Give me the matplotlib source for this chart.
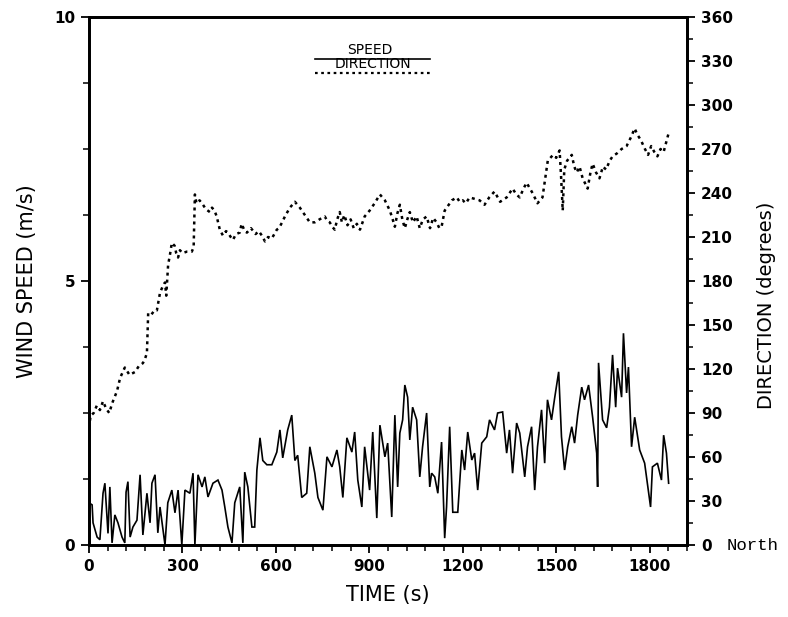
import matplotlib
matplotlib.use("Agg")
import matplotlib.pyplot as plt
from matplotlib.ticker import MultipleLocator
from matplotlib.lines import Line2D

# ---- data ----
speed_t = [0, 10, 13, 26, 35, 45, 51, 61, 67, 74, 83, 93, 106, 115, 119, 125, 132, 141, 154, 164,
           173, 186, 196, 202, 212, 221, 228, 244, 253, 266, 276, 286, 298, 308, 324, 334, 340, 350,
           363, 372, 382, 398, 414, 427, 436, 446, 459, 468, 484, 494, 500, 510, 523, 532, 539, 549,
           558, 571, 587, 603, 613, 622, 638, 651, 661, 670, 683, 699, 709, 725, 735, 751, 764, 780,
           796, 805, 815, 828, 844, 853, 863, 876, 885, 901, 911, 924, 934, 950, 959, 972, 982, 991,
           998, 1007, 1014, 1023, 1030, 1039, 1052, 1062, 1071, 1084, 1094, 1100, 1110, 1120, 1132,
           1142, 1148, 1158, 1168, 1184, 1197, 1206, 1216, 1229, 1238, 1248, 1261, 1277, 1286, 1302,
           1312, 1328, 1341, 1350, 1360, 1373, 1383, 1399, 1408, 1421, 1431, 1440, 1453, 1463, 1472,
           1485, 1495, 1508, 1517, 1527, 1537, 1550, 1559, 1569, 1582, 1591, 1604, 1617, 1630, 1633,
           1636, 1649, 1662, 1671, 1681, 1691, 1697, 1710, 1716, 1726, 1732, 1742, 1752, 1768, 1784,
           1803, 1809, 1825, 1838, 1845, 1854, 1861]
speed_v = [0.8, 0.76, 0.42, 0.15, 0.1, 0.98, 1.17, 0.22, 1.1, 0.04, 0.57, 0.42, 0.15, 0.04, 1.0, 1.2,
           0.15, 0.34, 0.47, 1.33, 0.19, 0.98, 0.42, 1.17, 1.33, 0.23, 0.72, 0.0, 0.8, 1.04, 0.61,
           1.04, 0.0, 1.04, 0.98, 1.36, 0.0, 1.33, 1.1, 1.29, 0.91, 1.17, 1.23, 1.04, 0.72, 0.34,
           0.04, 0.8, 1.1, 0.04, 1.38, 1.1, 0.34, 0.34, 1.42, 2.03, 1.6, 1.52, 1.52, 1.76, 2.18, 1.65,
           2.18, 2.46, 1.6, 1.7, 0.9, 0.98, 1.86, 1.36, 0.9, 0.66, 1.67, 1.48, 1.8, 1.48, 0.9, 2.03,
           1.76, 2.14, 1.23, 0.72, 1.86, 1.04, 2.14, 0.51, 2.27, 1.67, 1.93, 0.53, 2.46, 1.1, 2.12,
           2.37, 3.03, 2.8, 1.99, 2.61, 2.37, 1.29, 1.86, 2.5, 1.1, 1.36, 1.29, 0.98, 1.95, 0.13,
           0.72, 2.24, 0.62, 0.62, 1.8, 1.42, 2.14, 1.61, 1.74, 1.04, 1.93, 2.05, 2.37, 2.18, 2.5,
           2.52, 1.74, 2.18, 1.36, 2.31, 2.12, 1.29, 1.86, 2.24, 1.04, 1.86, 2.56, 1.55, 2.75, 2.37,
           2.78, 3.28, 2.05, 1.42, 1.86, 2.24, 1.93, 2.46, 2.99, 2.75, 3.03, 2.42, 1.74, 1.1, 3.45,
           2.37, 2.22, 2.61, 3.6, 2.61, 3.35, 2.8, 4.01, 2.88, 3.37, 1.86, 2.42, 1.8, 1.55, 0.72,
           1.48, 1.55, 1.23, 2.08, 1.74, 1.17]

dir_t = [0, 5, 15, 25, 35, 45, 55, 65, 75, 90, 100, 115, 130, 148, 160, 173, 180, 186, 188, 190,
         200, 210, 218, 228, 236, 244, 248, 254, 260, 266, 275, 280, 286, 292, 300, 314, 330, 336,
         340, 345, 355, 366, 375, 388, 395, 403, 410, 420, 430, 440, 446, 455, 462, 472, 484, 490,
         500, 507, 520, 535, 545, 555, 565, 575, 587, 595, 603, 610, 620, 629, 645, 661, 677, 693,
         709, 725, 740, 757, 765, 773, 781, 789, 797, 805, 812, 820, 830, 840, 850, 860, 870, 885,
         901, 917, 934, 950, 966, 975, 982, 990, 998, 1006, 1014, 1022, 1030, 1040, 1052, 1062,
         1072, 1084, 1095, 1105, 1116, 1125, 1132, 1142, 1155, 1165, 1181, 1190, 1200, 1210, 1222,
         1238, 1254, 1270, 1285, 1302, 1320, 1341, 1360, 1372, 1383, 1395, 1405, 1424, 1440, 1456,
         1465, 1473, 1490, 1500, 1511, 1516, 1521, 1526, 1535, 1550, 1558, 1566, 1575, 1585, 1601,
         1610, 1617, 1628, 1639, 1650, 1660, 1672, 1681, 1695, 1710, 1726, 1740, 1752, 1760, 1772,
         1785, 1795, 1805, 1815, 1825, 1835, 1845, 1855, 1860]
dir_v = [80, 88, 90, 95, 92, 98, 93, 90, 97, 105, 114, 121, 116, 118, 122, 124, 127, 131, 145, 158,
         157, 160, 160, 172, 176, 179, 170, 191, 198, 206, 204, 199, 196, 201, 199, 200, 200, 203,
         239, 233, 235, 232, 229, 227, 230, 228, 224, 215, 211, 214, 213, 210, 208, 212, 213, 219,
         214, 213, 216, 212, 214, 211, 207, 210, 209, 212, 215, 216, 220, 224, 230, 234, 230, 225,
         220, 220, 222, 224, 221, 220, 217, 215, 222, 227, 220, 225, 218, 222, 216, 219, 215, 224,
         228, 233, 239, 235, 228, 222, 217, 226, 232, 222, 216, 222, 227, 220, 224, 216,
         222, 224, 216, 223, 220, 216, 217, 228, 232, 235, 237, 234, 235, 233, 237,
         236, 235, 232, 237, 241, 234, 237, 243, 239, 237, 243, 247, 240, 233, 237,
         250, 262, 266, 264, 269, 250, 228, 256, 262, 266, 258, 254, 258, 250, 243,
         254, 260, 254, 250, 258, 256, 262, 265, 267, 270, 272, 278, 284, 280, 276,
         270, 266, 272, 268, 265, 270, 268, 276, 280]

x_ticks = [0, 300, 600, 900, 1200, 1500, 1800]
left_ticks = [0, 5, 10]
right_ticks = [0, 30, 60, 90, 120, 150, 180, 210, 240, 270, 300, 330, 360]

# ---- figure ----
fig = plt.figure(figsize=(7.88, 6.17), dpi=100)
ax = fig.add_axes([89/788, 1-545/617, (687-89)/788, (545-17)/617])
ax2 = ax.twinx()

ax.plot(speed_t, speed_v, color='black', lw=1.2, solid_joinstyle='miter')
ax2.plot(dir_t, dir_v, color='black', lw=1.8, linestyle=(0, (1.2, 1.6)))

ax.set_xlim(0, 1920)
ax.set_ylim(0, 10)
ax2.set_ylim(0, 360)

tick_font = dict(family='DejaVu Sans', weight='bold', size=11)
ax.set_xticks(x_ticks)
ax.set_xticklabels([str(v) for v in x_ticks], **tick_font)
ax.xaxis.set_minor_locator(MultipleLocator(60))
ax.set_yticks(left_ticks)
ax.set_yticklabels([str(v) for v in left_ticks], **tick_font)
ax.yaxis.set_minor_locator(MultipleLocator(1.25))
ax2.set_yticks(right_ticks)
ax2.set_yticklabels([str(v) for v in right_ticks], **tick_font)
ax2.yaxis.set_minor_locator(MultipleLocator(15))

ax.tick_params(axis='both', which='major', direction='out', length=6, width=1.3, pad=4)
ax.tick_params(axis='both', which='minor', direction='out', length=4, width=1.1)
ax2.tick_params(axis='y', which='major', direction='out', length=6, width=1.3, pad=4)
ax2.tick_params(axis='y', which='minor', direction='out', length=4, width=1.1)

for a in (ax, ax2):
    for s in a.spines.values():
        s.set_linewidth(2.0)

label_font = dict(family='DejaVu Sans', size=15)
ax.set_xlabel('TIME (s)', labelpad=8, **label_font)
ax.set_ylabel('WIND SPEED (m/s)', labelpad=12, **label_font)
ax2.set_ylabel('DIRECTION (degrees)', family='DejaVu Sans', size=14)
ax2.yaxis.set_label_coords((757-89)/598, 1-(305-17)/528)

# "North" annotation next to the right-axis 0
fig.text(727/788, 1-545/617, 'North', ha='left', va='center',
         family='Liberation Mono', size=12.5)

# legend (text above sample lines)
ax.add_line(Line2D([0.378, 0.57], [0.921, 0.921], transform=ax.transAxes, color='black', lw=1.2))
ax.add_line(Line2D([0.378, 0.57], [0.893, 0.893], transform=ax.transAxes, color='black', lw=1.6,
                   linestyle=(0, (1.2, 1.6))))
ax.text(0.47, 0.925, 'SPEED', transform=ax.transAxes, ha='center', va='bottom',
        family='DejaVu Sans', size=10)
ax.text(0.475, 0.897, 'DIRECTION', transform=ax.transAxes, ha='center', va='bottom',
        family='DejaVu Sans', size=10)

fig.savefig('out.png', dpi=100)
